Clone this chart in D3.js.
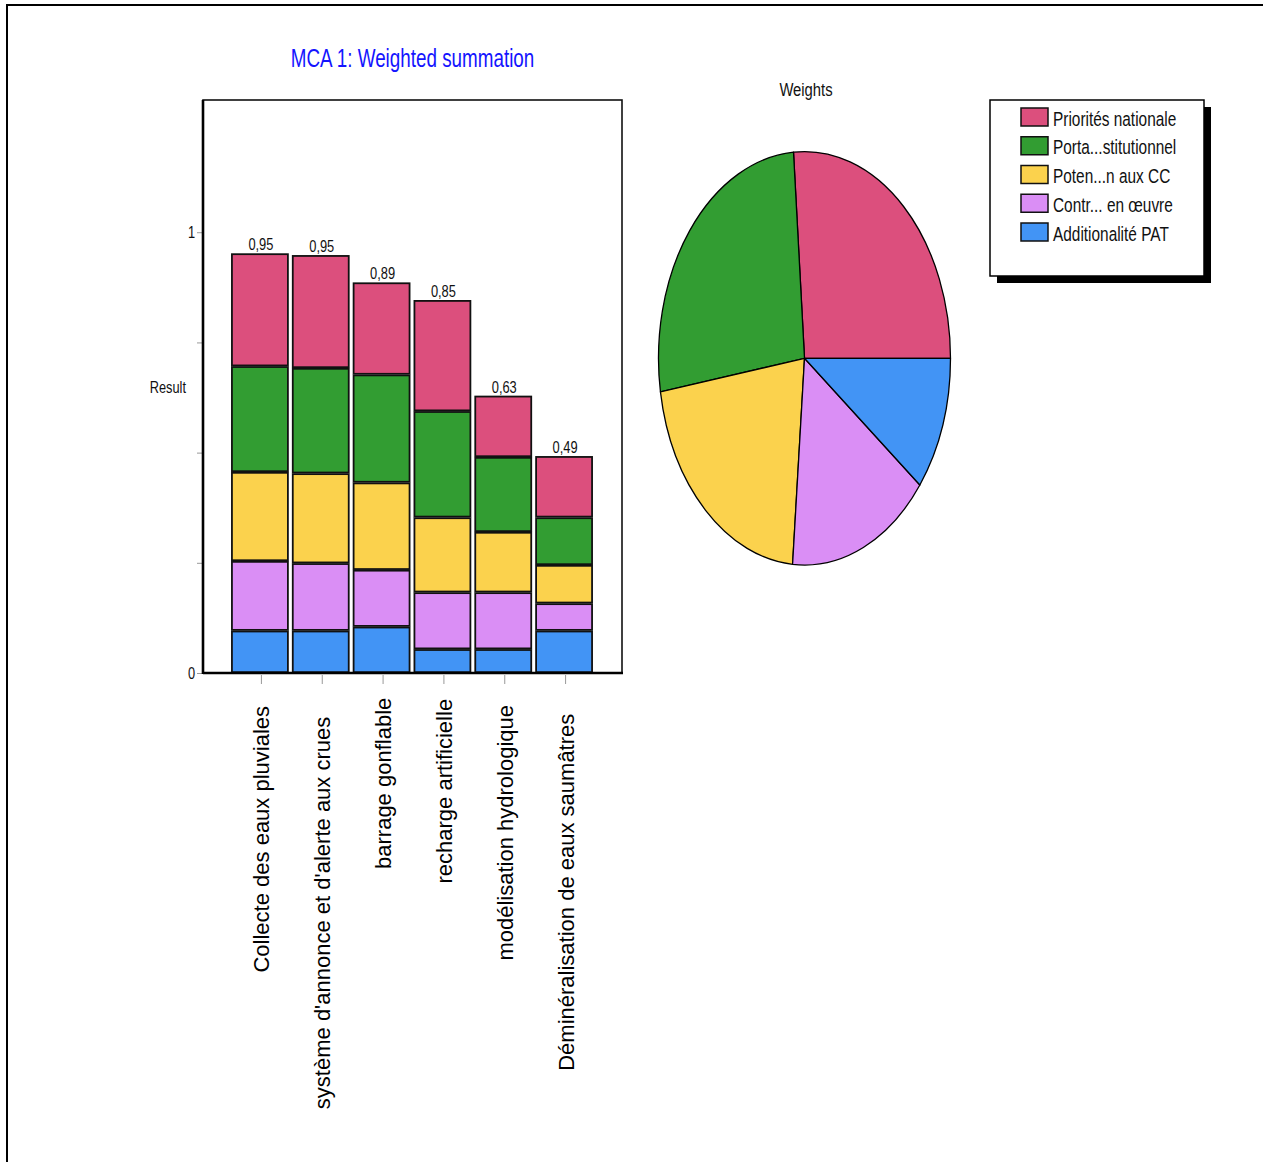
<!DOCTYPE html>
<html>
<head>
<meta charset="utf-8">
<script src="https://cdn.jsdelivr.net/npm/d3@7/dist/d3.min.js"></script>
<style>
  html, body { margin: 0; padding: 0; background: #fff; }
  svg { display: block; }
  .narrow, .wide { font-family: "Liberation Sans", Arial, sans-serif; }
</style>
</head>
<body>
<svg id="chart" width="1263" height="1162"></svg>
<script>
// Alternatives evaluated by the multi-criteria analysis
const categories = [
  "Collecte des eaux pluviales",
  "système d'annonce et d'alerte aux crues",
  "barrage gonflable",
  "recharge artificielle",
  "modélisation hydrologique",
  "Déminéralisation de eaux saumâtres"
];

// Criteria, in legend order
const criteria = [
  "Priorités nationale",
  "Porta...stitutionnel",
  "Poten...n aux CC",
  "Contr... en œuvre",
  "Additionalité PAT"
];

// Weighted score contributed by each criterion, per alternative
const prioritesNationale = [0.256, 0.256, 0.209, 0.252, 0.139, 0.139];
const portageInstitutionnel = [0.240, 0.239, 0.245, 0.241, 0.170, 0.108];
const potentielAdaptation = [0.202, 0.204, 0.198, 0.170, 0.137, 0.087];
const contraintesMiseEnOeuvre = [0.158, 0.153, 0.129, 0.129, 0.129, 0.062];
const additionalitePAT = [0.096, 0.096, 0.105, 0.054, 0.054, 0.096];

// Criterion weights (pie)
const weights = [0.262, 0.264, 0.211, 0.158, 0.105];

const colors = ["#DC4F7D", "#329D32", "#FBD24D", "#DA8EF5", "#4294F5"];

const yTickValues = [0, 0.25, 0.5, 0.75, 1];
const yTickLabels = {0: "0", 1: "1"};

const seriesByCriterion = [prioritesNationale, portageInstitutionnel, potentielAdaptation,
                           contraintesMiseEnOeuvre, additionalitePAT];

const NARROW = 0.8; // horizontal squeeze for the condensed labels

const svg = d3.select("#chart");

// Condensed text: place at (x, y) then squeeze horizontally
function narrowText(parent, x, y, size, anchor, fill, squeeze = NARROW) {
  return parent.append("text").attr("class", "narrow")
    .attr("transform", `translate(${x},${y}) scale(${squeeze},1)`)
    .attr("text-anchor", anchor).attr("font-size", size).attr("fill", fill);
}

// Page frame
svg.append("line").attr("x1", 6).attr("x2", 1263).attr("y1", 5).attr("y2", 5)
  .attr("stroke", "#000").attr("stroke-width", 2);
svg.append("line").attr("x1", 7).attr("x2", 7).attr("y1", 4).attr("y2", 1162)
  .attr("stroke", "#000").attr("stroke-width", 2);

// ---------- Stacked bar chart ----------
const plot = {left: 203, right: 622, top: 100, bottom: 673};

const x = d3.scaleBand()
  .domain(categories)
  .range([229.5, 594.5])
  .paddingInner(0.08)
  .paddingOuter(0.04);

const y = d3.scaleLinear().domain([0, 1.3]).range([plot.bottom, plot.top]);

// Rows: one object per alternative, keyed by criterion
const rows = categories.map((c, i) => {
  const r = {category: c};
  criteria.forEach((k, j) => { r[k] = seriesByCriterion[j][i]; });
  r.total = d3.sum(criteria, k => r[k]);
  return r;
});

// Stack from bottom: Additionalité first, Priorités last
const stackKeys = criteria.slice().reverse();
const stacked = d3.stack().keys(stackKeys)(rows);
const colorOf = d3.scaleOrdinal().domain(criteria).range(colors);

// Plot frame
svg.append("rect")
  .attr("x", plot.left).attr("y", plot.top)
  .attr("width", plot.right - plot.left).attr("height", plot.bottom - plot.top)
  .attr("fill", "none").attr("stroke", "#111").attr("stroke-width", 1.6);

// Y axis ticks
const yAxis = d3.axisLeft(y).tickValues(yTickValues).tickSize(5)
  .tickFormat(d => yTickLabels[d] !== undefined ? yTickLabels[d] : "");
const gy = svg.append("g").attr("transform", `translate(${plot.left - 1},0)`).call(yAxis);
gy.select(".domain").remove();
gy.selectAll(".tick line").attr("stroke", "#999").attr("stroke-width", 1);
gy.selectAll(".tick text").attr("class", "narrow").attr("font-size", 16)
  .attr("fill", "#111").attr("x", 0).attr("dy", "0.36em")
  .attr("transform", `translate(-7,0) scale(${NARROW},1)`);

// Bars
const layer = svg.append("g").selectAll("g").data(stacked).join("g")
  .attr("fill", d => colorOf(d.key));

layer.selectAll("rect").data(d => d).join("rect")
  .attr("x", d => x(d.data.category))
  .attr("width", x.bandwidth())
  .attr("y", d => y(d[1]) + 0.8)
  .attr("height", d => Math.max(0, y(d[0]) - y(d[1]) - 1.6))
  .attr("stroke", "#111").attr("stroke-width", 1.8);

// Bar totals
const totals = svg.append("g");
rows.forEach(d => {
  narrowText(totals, x(d.category) + x.bandwidth() / 2 + 1, y(d.total) - 3, 16.5, "middle", "#111", 0.78)
    .text(d3.format(".2f")(d.total).replace(".", ","));
});

// Axis lines (thicker left and bottom)
svg.append("line").attr("x1", plot.left).attr("x2", plot.left)
  .attr("y1", plot.top).attr("y2", plot.bottom + 1)
  .attr("stroke", "#000").attr("stroke-width", 2.6);
svg.append("line").attr("x1", plot.left).attr("x2", plot.right + 1)
  .attr("y1", plot.bottom).attr("y2", plot.bottom)
  .attr("stroke", "#000").attr("stroke-width", 2.6);

// X axis: ticks and rotated category labels
const xAxisOffset = plot.bottom + 2;
const xAxis = d3.axisBottom(x).tickSize(9).tickSizeOuter(0);
const gx = svg.append("g").attr("transform", `translate(1.5,${xAxisOffset})`).call(xAxis);
gx.select(".domain").remove();
gx.selectAll(".tick line").attr("stroke", "#999").attr("stroke-width", 1);
gx.selectAll(".tick text")
  .attr("class", "wide")
  .attr("font-size", 22)
  .attr("fill", "#000")
  .attr("transform", "rotate(-90)")
  .attr("text-anchor", "end")
  .attr("y", 0)
  .attr("dy", "0.36em")
  .each(function () {
    // longer labels sit a little further from the axis
    const len = this.getComputedTextLength();
    const end = 683 + 0.086 * len;
    d3.select(this).attr("x", -(end - xAxisOffset));
  });

// Axis title
narrowText(svg, 186, y(0.65) + 6, 16, "end", "#111").text("Result");

// Chart title
narrowText(svg, (plot.left + plot.right) / 2, 67, 26, "middle", "#1414ff", 0.725)
  .text("MCA 1: Weighted summation");

// ---------- Weights pie ----------
const pieCx = 804.5, pieCy = 358.3, pieRx = 146, pieRy = 206.7;

narrowText(svg, 806, 96, 19, "middle", "#111", 0.78).text("Weights");

// Slices start at 3 o'clock and run counter-clockwise
const pie = d3.pie().sort(null).value(d => d.w)
  .startAngle(Math.PI / 2).endAngle(Math.PI / 2 - 2 * Math.PI);
const arc = d3.arc().innerRadius(0).outerRadius(pieRy);

const pieData = criteria.map((k, i) => ({key: k, w: weights[i]}));

svg.append("g")
  .attr("transform", `translate(${pieCx},${pieCy}) scale(${pieRx / pieRy},1)`)
  .selectAll("path").data(pie(pieData)).join("path")
  .attr("d", arc)
  .attr("fill", d => colorOf(d.data.key))
  .attr("stroke", "#000").attr("stroke-width", 1.3)
  .attr("vector-effect", "non-scaling-stroke")
  .attr("stroke-linejoin", "round");

// ---------- Legend ----------
const lg = {x: 990, y: 100, w: 214, h: 176, shadow: 7};
svg.append("rect").attr("x", lg.x + lg.shadow).attr("y", lg.y + lg.shadow)
  .attr("width", lg.w).attr("height", lg.h).attr("fill", "#000");
svg.append("rect").attr("x", lg.x).attr("y", lg.y)
  .attr("width", lg.w).attr("height", lg.h)
  .attr("fill", "#fff").attr("stroke", "#000").attr("stroke-width", 1.5);

const items = svg.append("g").selectAll("g").data(criteria).join("g")
  .attr("transform", (d, i) => `translate(${lg.x + 31},${lg.y + 8 + i * 28.75})`);
items.append("rect").attr("width", 27).attr("height", 18)
  .attr("fill", d => colorOf(d)).attr("stroke", "#111").attr("stroke-width", 1.5);
items.each(function (d) {
  narrowText(d3.select(this), 32, 17.5, 19.5, "start", "#111", 0.79).text(d);
});
</script>
</body>
</html>
